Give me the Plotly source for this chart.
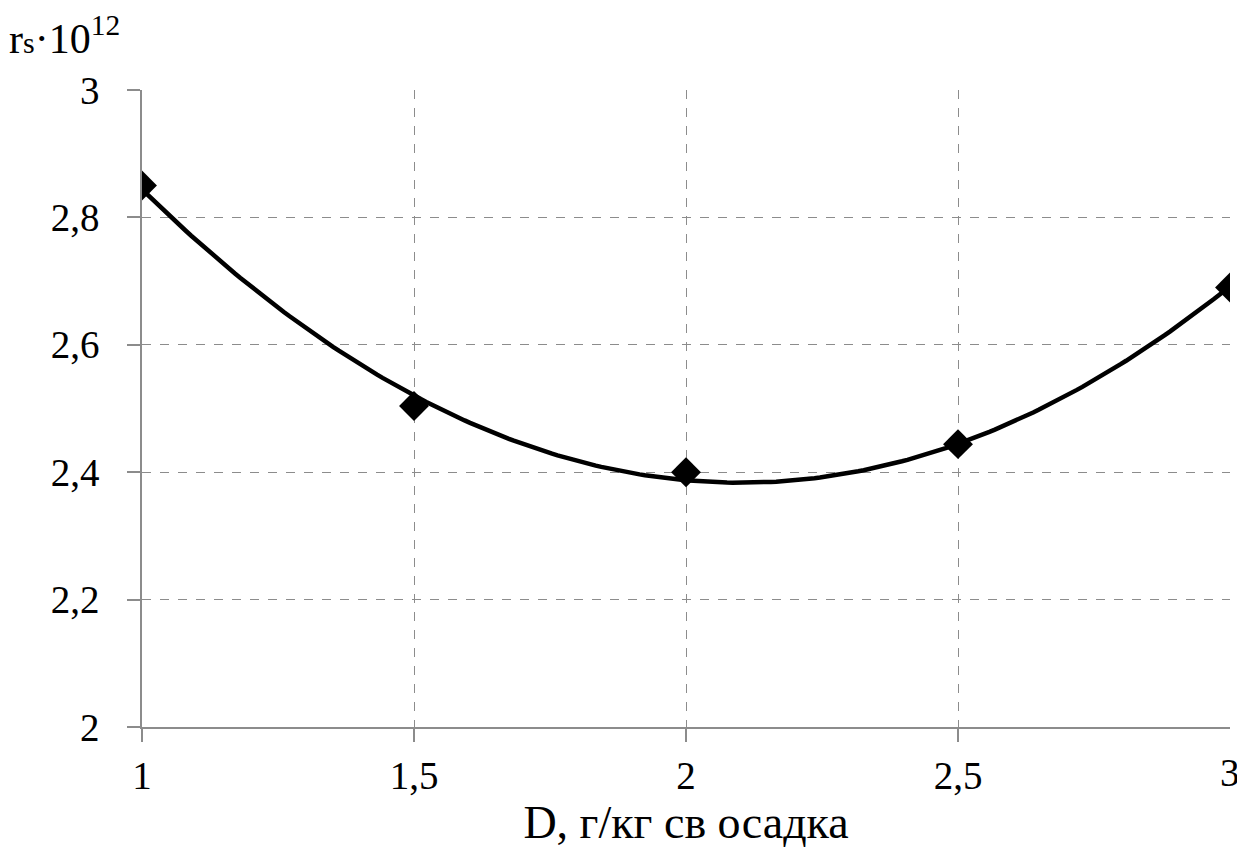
import numpy as np
import plotly.graph_objects as go

# Dose of reagent, g/kg dry sludge
dose = [1.0, 1.5, 2.0, 2.5, 3.0]
# Specific filtration resistance, x10^12
resistance = [2.85, 2.504, 2.40, 2.444, 2.69]

x_ticks = [1, 1.5, 2, 2.5, 3]
x_tick_text = ["1", "1,5", "2", "2,5", "3"]
y_ticks = [2, 2.2, 2.4, 2.6, 2.8, 3]
y_tick_text = ["2", "2,2", "2,4", "2,6", "2,8", "3"]

# Second-order polynomial trend line through the measured points
coef = np.polyfit(dose, resistance, 2)
x_fit = np.linspace(min(dose), max(dose), 200)
y_fit = np.polyval(coef, x_fit)

FONT = "Times New Roman, Liberation Serif, serif"

fig = go.Figure()
fig.add_trace(go.Scatter(
    x=x_fit, y=y_fit, mode="lines",
    line=dict(color="black", width=4.5),
    hoverinfo="skip", showlegend=False,
))
fig.add_trace(go.Scatter(
    x=dose, y=resistance, mode="markers",
    marker=dict(symbol="diamond", size=23, color="black"),
    showlegend=False,
))

axis_common = dict(
    showgrid=True, gridcolor="#8c8c8c", griddash="dash", gridwidth=1,
    showline=True, linecolor="#8c8c8c", linewidth=1.5,
    ticks="outside", ticklen=13, tickcolor="#8c8c8c", tickwidth=1.5,
    zeroline=False,
    tickfont=dict(family=FONT, size=39, color="black"),
)

fig.update_xaxes(
    range=[1, 3], tickvals=x_ticks[:-1], ticktext=x_tick_text[:-1],
    ticklabelstandoff=0,
    title=dict(text="D, г/кг св осадка", standoff=10),
    **axis_common,
)
fig.update_yaxes(
    range=[2, 3], tickvals=y_ticks, ticktext=y_tick_text,
    ticklabelstandoff=20,
    **axis_common,
)
# The last x tick sits on the page edge; draw its label as text at the same spot
fig.add_annotation(
    text=x_tick_text[-1], xref="x", yref="paper", x=x_ticks[-1], y=0,
    yshift=-22, xanchor="center", yanchor="top", showarrow=False,
    font=dict(family=FONT, size=39, color="black"),
)

fig.add_annotation(
    text="r<span style='font-size:30px'>s</span>·10<sup>12</sup>",
    xref="paper", yref="paper", x=-0.124, y=1.0, yshift=55,
    xanchor="left", yanchor="middle", showarrow=False,
    font=dict(family=FONT, size=42, color="black"),
)

fig.update_layout(
    width=1237, height=856,
    margin=dict(l=142, r=7, t=90, b=129),
    paper_bgcolor="white", plot_bgcolor="white",
    font=dict(family=FONT, size=38, color="black"),
)

fig.write_html("out.html")
